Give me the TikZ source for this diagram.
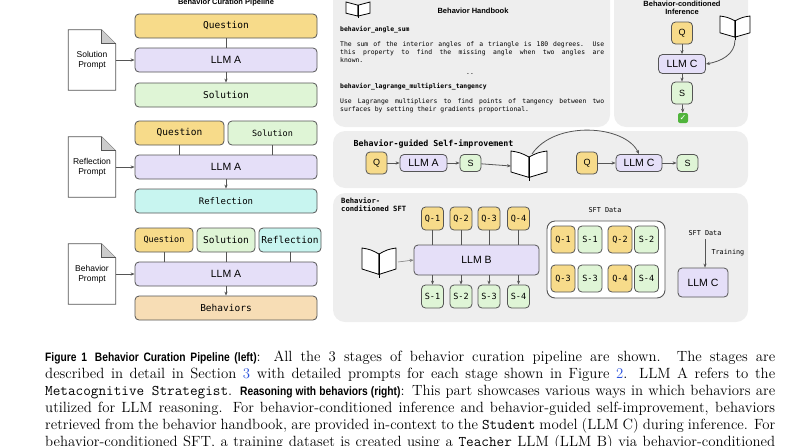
\documentclass[tikz,border=0pt]{standalone}
\usepackage{fontspec}
\usepackage{xcolor}
\usetikzlibrary{positioning,arrows.meta,shapes}
\newfontfamily\lsans{Liberation Sans}
\newfontfamily\capsans[FakeStretch=0.84]{Liberation Sans}
\newfontfamily\dmono{DejaVu Sans Mono}
\newfontfamily\djsans{DejaVu Sans}
\definecolor{qcolor}{RGB}{247,219,138}
\definecolor{llmcolor}{RGB}{229,223,248}
\definecolor{solcolor}{RGB}{223,245,214}
\definecolor{refcolor}{RGB}{200,245,240}
\definecolor{behcolor}{RGB}{247,221,181}
\definecolor{panelcolor}{RGB}{238,238,238}
\definecolor{edgecolor}{RGB}{85,85,85}
\definecolor{refblue}{RGB}{40,80,220}
\definecolor{okgreen}{RGB}{80,180,60}
\begin{document}
\begin{tikzpicture}[%
    x=1pt, y=-1pt,
    >={Stealth[length=4pt,width=3.2pt]}, % small arrows
    ]
\tikzset{
  base/.style={draw=edgecolor, line width=0.8pt, rounded corners=4pt, align=center, inner sep=0pt, minimum height=24pt},
  ques/.style={base, fill=qcolor, font=\dmono\fontsize{9.5}{10}\selectfont},
  llm/.style={base, fill=llmcolor, font=\lsans\fontsize{10.5}{11}\selectfont},
  sol/.style={base, fill=solcolor, font=\dmono\fontsize{9.5}{10}\selectfont},
  refl/.style={base, fill=refcolor, font=\dmono\fontsize{9}{10}\selectfont},
  beh/.style={base, fill=behcolor, font=\dmono\fontsize{9.5}{10}\selectfont},
  small/.style={minimum width=21pt, minimum height=22pt},
  doc/.style={minimum width=47pt, minimum height=60pt, inner sep=0pt, align=center, font=\lsans\fontsize{8.5}{10}\selectfont},
  title/.style={font=\lsans\bfseries\fontsize{7.5}{8.5}\selectfont, align=center},
  hbook/.style={font=\dmono\fontsize{6.4}{8}\selectfont, anchor=north west, inner sep=0pt},
  link/.style={draw=edgecolor, line width=0.8pt},
  pics/book/.style={code={
    \draw[line width=0.8pt, fill=white] (0,0.38) -- (-1,0.2) -- (-1,-0.5) .. controls (-0.5,-0.45) .. (0,-0.3) -- cycle;
    \draw[line width=0.8pt, fill=white] (0,0.38) -- (1,0.2) -- (1,-0.5) .. controls (0.5,-0.45) .. (0,-0.3) -- cycle;
    \draw[line width=1pt] (0,-0.3) -- (0,0.5);
  }},
}
\useasboundingbox (0,0) rectangle (800,445);

% left: curation pipeline
\node[title] (lt) at (226,3) {Behavior Curation Pipeline};

\node[ques, minimum width=182pt] (q1) at (226,26) {Question};
\node[llm, minimum width=182pt] (a1) at (226,60) {LLM A};
\node[sol, minimum width=182pt] (s1) at (226,95) {Solution};
\node[doc] (d1) at (92,60) {Solution\\Prompt};

\node[ques, minimum width=89pt] (q2) at (179.5,133) {Question};
\node[sol, minimum width=89pt, font=\dmono\fontsize{8.5}{10}\selectfont] (s2) at (272.5,133) {Solution};
\node[llm, minimum width=182pt] (a2) at (226,167) {LLM A};
\node[refl, minimum width=182pt] (r2) at (226,201) {Reflection};
\node[doc] (d2) at (92,167) {Reflection\\Prompt};

\node[ques, minimum width=58pt, font=\dmono\fontsize{8.5}{10}\selectfont] (q3) at (164,240) {Question};
\node[sol, minimum width=58pt] (s3) at (226,240) {Solution};
\node[refl, minimum width=62pt, font=\dmono\fontsize{9.5}{10}\selectfont] (r3) at (290,240) {Reflection};
\node[llm, minimum width=182pt] (a3) at (226,274) {LLM A};
\node[beh, minimum width=182pt] (b3) at (226,308) {Behaviors};
\node[doc] (d3) at (92,274) {Behavior\\Prompt};

\foreach \d in {d1,d2,d3}{
  \draw[line width=0.8pt, edgecolor] (\d.north west) -- ([xshift=-14pt]\d.north east) -- ([yshift=-14pt]\d.north east) -- (\d.south east) -- (\d.south west) -- cycle;
  \draw[line width=0.8pt, edgecolor, fill=gray!40] ([xshift=-14pt]\d.north east) -- ([xshift=-14pt,yshift=-14pt]\d.north east) -- ([yshift=-14pt]\d.north east);
}

%connect
\draw[link] (q1) -- (a1);
\draw[link, ->] (a1) -- (s1);
\draw[link, ->] (d1) -- (a1);
\draw[link] (q2.south) -- (q2.south |- a2.north);
\draw[link] (s2.south) -- (s2.south |- a2.north);
\draw[link, ->] (a2) -- (r2);
\draw[link, ->] (d2) -- (a2);
\draw[link] (q3.south) -- (q3.south |- a3.north);
\draw[link] (s3.south) -- (s3.south |- a3.north);
\draw[link] (r3.south) -- (r3.south |- a3.north);
\draw[link, ->] (a3) -- (b3);
\draw[link, ->] (d3) -- (a3);

% right: panels
\fill[panelcolor, rounded corners=12pt] (333,-12) rectangle (610,127);
\fill[panelcolor, rounded corners=12pt] (614,-12) rectangle (748,127);
\fill[panelcolor, rounded corners=12pt] (333,131) rectangle (748,188);
\fill[panelcolor, rounded corners=12pt] (333,193) rectangle (748,322);

% handbook
\pic[xscale=12, yscale=16] at (358,10) {book};
\node[title, font=\lsans\bfseries\fontsize{7.5}{8.5}\selectfont] (ht) at (473,11) {Behavior Handbook};
\node[hbook, font=\dmono\bfseries\fontsize{6.4}{8}\selectfont] (h1) at (340,26) {behavior\_angle\_sum};
\node[hbook, text width=264pt, align=justify] (h2) at (340,41) {The sum of the interior angles of a triangle is 180 degrees. Use\linebreak this property to find the missing angle when two angles are\linebreak known.};
\node[hbook, anchor=center] (h3) at (470,74) {..};
\node[hbook, font=\dmono\bfseries\fontsize{6.4}{8}\selectfont] (h4) at (340,83) {behavior\_lagrange\_multipliers\_tangency};
\node[hbook, text width=264pt, align=justify] (h5) at (340,98) {Use Lagrange multipliers to find points of tangency between two\linebreak surfaces by setting their gradients proportional.};

% conditioned inference
\node[title] (it) at (682,8) {Behavior-conditioned\\Inference};
\node[ques, small, font=\lsans\fontsize{9}{10}\selectfont] (iq) at (682,33) {Q};
\node[llm, minimum width=47pt, minimum height=19pt] (ic) at (682,64) {LLM C};
\node[sol, small, font=\lsans\fontsize{9}{10}\selectfont] (is) at (682,93) {S};
\pic[xscale=15, yscale=24] at (735,28) {book};
\coordinate (ibk) at (735,40);
\node[fill=okgreen, rounded corners=2pt, minimum size=10pt, inner sep=0pt, text=white, font=\djsans\bfseries\fontsize{8}{8}\selectfont] (ok) at (683,118) {✓};
\draw[link, ->] (iq) -- (ic);
\draw[link, ->] (ic) -- (is);
\draw[link, ->] (is) -- (ok);
\draw[link, ->] (ibk) to[out=-90, in=10] (ic.east);

% self-improvement
\node[font=\dmono\bfseries\fontsize{8.3}{9}\selectfont, anchor=west] (st) at (350,144) {Behavior-guided Self-improvement};
\node[ques, small, font=\lsans\fontsize{9}{10}\selectfont] (gq) at (376.5,163) {Q};
\node[llm, minimum width=47pt, minimum height=17pt] (ga) at (423.5,163) {LLM A};
\node[sol, small, minimum height=17pt, font=\lsans\fontsize{9}{10}\selectfont] (gs) at (470.5,163) {S};
\pic[xscale=18, yscale=30] at (529,166) {book};
\coordinate (gbl) at (511,166);
\coordinate (gbt) at (532,154);
\node[ques, small, font=\lsans\fontsize{9}{10}\selectfont] (gq2) at (587,163) {Q};
\node[llm, minimum width=46pt, minimum height=17pt] (gc) at (639,163) {LLM C};
\node[sol, small, minimum height=17pt, font=\lsans\fontsize{9}{10}\selectfont] (gs2) at (687.5,163) {S};
\draw[link, ->] (gq) -- (ga);
\draw[link, ->] (ga) -- (gs);
\draw[link, ->] (gs) -- (gbl);
\draw[link, ->] (gq2) -- (gc);
\draw[link, ->] (gc) -- (gs2);
\draw[link, ->] (gbt) .. controls (555,120) and (625,125) .. (gc.north);

% conditioned SFT
\node[font=\dmono\bfseries\fontsize{7.2}{8.5}\selectfont, align=left, anchor=north west, inner sep=0pt] (ft) at (341,197) {Behavior-\\conditioned SFT};
\foreach \i/\x in {1/432.5,2/461,3/489,4/518.5}{
  \node[ques, minimum width=22pt, minimum height=23pt, font=\dmono\fontsize{8.5}{10}\selectfont] (fq\i) at (\x,218.5) {Q-\i};
  \node[sol, minimum width=22pt, minimum height=23pt, font=\dmono\fontsize{8.5}{10}\selectfont] (fs\i) at (\x,296.5) {S-\i};
}
\node[llm, minimum width=125pt, minimum height=30pt] (fb) at (476.5,260) {LLM B};
\foreach \i in {1,...,4}{
  \draw[link] (fq\i) -- (fq\i |- fb.north);
  \draw[link, ->] (fq\i |- fb.south) -- (fs\i);
}
\pic[xscale=17, yscale=30] at (379,263) {book};
\coordinate (fbk) at (398,262);
\draw[line width=0.6pt, gray, ->] (fbk) -- (fb.west);

\node[font=\dmono\fontsize{6.8}{8}\selectfont] (dt) at (605,210) {SFT Data};
\draw[draw=edgecolor, line width=0.9pt, fill=white, rounded corners=8pt] (547,221) rectangle (665,298);
\foreach \t/\x/\y in {Q-1/563/239.5,Q-2/620/239.5,Q-3/563/278.5,Q-4/620/278.5}{
  \node[ques, minimum width=24pt, minimum height=27pt, font=\dmono\fontsize{8.5}{10}\selectfont] at (\x,\y) {\t};
}
\foreach \t/\x/\y in {S-1/590/239.5,S-2/646.5/239.5,S-3/590/278.5,S-4/646.5/278.5}{
  \node[sol, minimum width=24pt, minimum height=27pt, font=\dmono\fontsize{8.5}{10}\selectfont] at (\x,\y) {\t};
}

\node[font=\dmono\fontsize{6.8}{8}\selectfont] (tl) at (705,233) {SFT Data};
\node[llm, minimum width=50pt, minimum height=29pt] (tc) at (703,282.5) {LLM C};
\draw[link, ->] (tl) -- (tc.north -| tl);
\node[font=\dmono\fontsize{6.8}{8}\selectfont, anchor=west] (tt) at (708,253) {Training};

% caption
\node[anchor=north west, text width=730pt, align=justify, inner sep=0pt, font=\fontsize{14.8}{17}\selectfont] (cap) at (45,351)
{{\capsans\bfseries\fontsize{12.2}{17}\selectfont Figure 1\hspace{8pt}Behavior Curation Pipeline (left)}: All the 3 stages of behavior curation pipeline are shown. The stages are\linebreak
described in detail in Section {\color{refblue}3} with detailed prompts for each stage shown in Figure {\color{refblue}2}. LLM A refers to the\linebreak
\texttt{Metacognitive Strategist}. {\capsans\bfseries\fontsize{12.2}{17}\selectfont Reasoning with behaviors (right)}: This part showcases various ways in which behaviors are\linebreak
utilized for LLM reasoning. For behavior-conditioned inference and behavior-guided self-improvement, behaviors\linebreak
retrieved from the behavior handbook, are provided in-context to the \texttt{Student} model (LLM C) during inference. For\linebreak
behavior-conditioned SFT, a training dataset is created using a \texttt{Teacher} LLM (LLM B) via behavior-conditioned\linebreak};
\end{tikzpicture}
\end{document}
